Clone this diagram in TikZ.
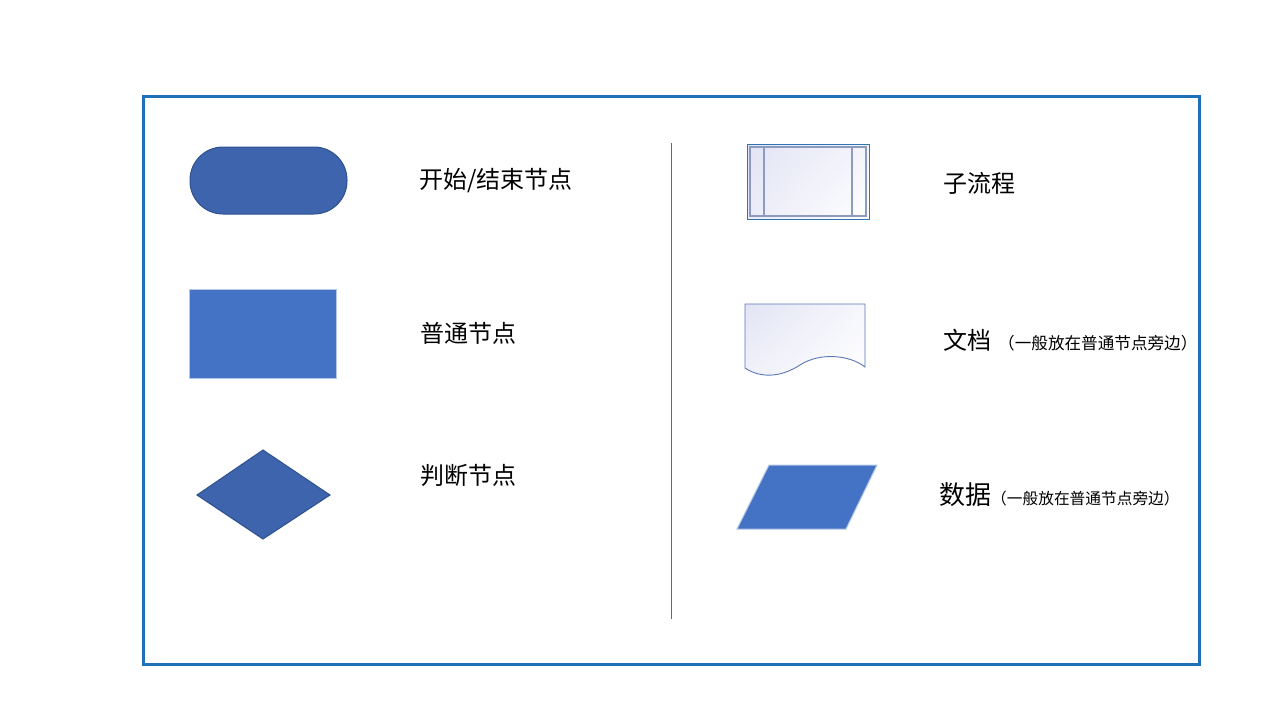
\documentclass[tikz,border=0pt]{standalone}
\usepackage{fontspec}
\usetikzlibrary{shadings}
\setmainfont{Noto Sans CJK SC}
\definecolor{framec}{RGB}{31,112,183}
\definecolor{darkfill}{RGB}{61,100,172}
\definecolor{darkedge}{RGB}{47,82,143}
\definecolor{midfill}{RGB}{68,114,196}
\definecolor{lightedge}{RGB}{180,199,231}
\definecolor{divc}{RGB}{80,110,150}
\definecolor{subedge}{RGB}{46,117,182}
\definecolor{subinner}{RGB}{142,155,192}
\definecolor{lav}{RGB}{226,228,244}
\definecolor{docedge}{RGB}{90,120,180}
\tikzset{
  lbl/.style={anchor=west, inner sep=0pt, font=\fontsize{24}{27}\selectfont, text=black},
  dark/.style={fill=darkfill, draw=darkedge, line width=1pt},
  mid/.style={fill=midfill, draw=lightedge, line width=1pt},
}
\begin{document}
\begin{tikzpicture}[x=1pt,y=-1pt]
\useasboundingbox (0,0) rectangle (1280,720);
\fill[white] (0,0) rectangle (1280,720);
% frame
\draw[framec, line width=3pt] (143,96) rectangle (1199,664);
% divider
\draw[divc, line width=0.8pt] (671,143) -- (671,619);
% terminal
\draw[dark, rounded corners=33pt] (190,147) rectangle (347,214);
% process
\draw[mid] (189,289) rectangle (336,378);
% decision
\draw[dark] (197,495) -- (263,450) -- (330,495) -- (263,539) -- cycle;
% subprocess
\shade[upper left=lav, lower right=white, upper right=white!60!lav, lower left=white!30!lav] (747,144) rectangle (869,219);
\draw[subedge, line width=1pt] (747,144) rectangle (869,219);
\draw[subinner, line width=1.2pt] (750,147) rectangle (866,216);
\draw[subinner, line width=1.4pt] (764,147) -- (764,216);
\draw[subinner, line width=1.4pt] (852,147) -- (852,216);
% document
\shade[upper left=lav, lower right=white, upper right=white!70!lav, lower left=white!50!lav]
  (745,304) -- (865,304) -- (865,367) .. controls (850,355) and (820,352) .. (800,365) .. controls (780,378) and (760,378) .. (745,368) -- cycle;
\draw[docedge, line width=0.9pt]
  (745,304) -- (865,304) -- (865,367) .. controls (850,355) and (820,352) .. (800,365) .. controls (780,378) and (760,378) .. (745,368) -- cycle;
% data
\draw[mid] (769,465) -- (877,465) -- (846,529) -- (737,529) -- cycle;
% labels
\node[lbl] (t1) at (419,181) {开始/结束节点};
\node[lbl] (t2) at (420,333) {普通节点};
\node[lbl] (t3) at (420,475) {判断节点};
\node[lbl] (t4) at (943,183) {子流程};
\node[lbl] (t5) at (943,340) {文档\hspace{7pt}\fontsize{16.6}{18}\selectfont （一般放在普通节点旁边）};
\node[lbl, font=\fontsize{26}{29}\selectfont] (t6) at (939,495) {数据\fontsize{15.7}{18}\selectfont （一般放在普通节点旁边）};
\end{tikzpicture}
\end{document}
